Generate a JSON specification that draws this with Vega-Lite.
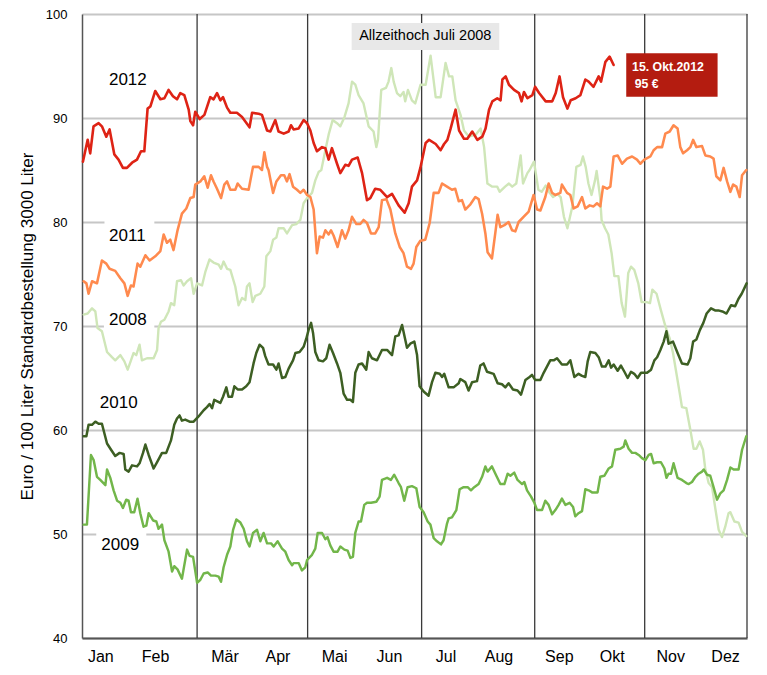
{
  "$schema": "https://vega.github.io/schema/vega-lite/v6.json",
  "width": 665,
  "height": 624,
  "autosize": {"type": "none"},
  "padding": {"left": 82, "top": 14, "right": 20, "bottom": 37},
  "config": {
    "font": "Liberation Sans",
    "view": {"stroke": null},
    "axis": {"labelColor": "#000", "titleColor": "#000"}
  },
  "datasets": {
    "boxes": [
      {"t": 12.3, "t2": 39.6, "v": 80.3, "v2": 77.4},
      {"t": 12.0, "t2": 39.6, "v": 72.2, "v2": 69.3},
      {"t": 7.8, "t2": 35.2, "v": 50.6, "v2": 47.7}
    ],
    "seps": [{"t": 63}, {"t": 123.5}, {"t": 185.9}, {"t": 247.8}, {"t": 308}, {"t": 364}],
    "labels": [
      {"label": "2012", "t": 25.1, "v": 93.65},
      {"label": "2011", "t": 24.8, "v": 78.65},
      {"label": "2008", "t": 25.1, "v": 70.58},
      {"label": "2010", "t": 20.1, "v": 62.57},
      {"label": "2009", "t": 20.9, "v": 48.94}
    ],
    "prices": [
      {"s":"2008","t":0.9,"v":71.1},{"s":"2008","t":3.1,"v":71.2},{"s":"2008","t":5.5,"v":71.7},{"s":"2008","t":7.3,"v":71.4},{"s":"2008","t":8.5,"v":69.8},{"s":"2008","t":10.9,"v":69.5},{"s":"2008","t":13.7,"v":67.5},{"s":"2008","t":16.4,"v":67.0},{"s":"2008","t":18.2,"v":66.7},{"s":"2008","t":21.0,"v":67.2},{"s":"2008","t":23.2,"v":66.6},{"s":"2008","t":25.0,"v":65.8},{"s":"2008","t":26.8,"v":66.7},{"s":"2008","t":28.2,"v":67.4},{"s":"2008","t":29.7,"v":67.2},{"s":"2008","t":31.5,"v":68.2},{"s":"2008","t":32.8,"v":66.7},{"s":"2008","t":35.6,"v":66.9},{"s":"2008","t":39.2,"v":66.9},{"s":"2008","t":41.1,"v":67.7},{"s":"2008","t":41.9,"v":69.8},{"s":"2008","t":43.2,"v":70.4},{"s":"2008","t":45.1,"v":70.6},{"s":"2008","t":47.4,"v":71.4},{"s":"2008","t":48.7,"v":72.2},{"s":"2008","t":50.5,"v":72.0},{"s":"2008","t":52.0,"v":74.3},{"s":"2008","t":54.2,"v":74.4},{"s":"2008","t":55.6,"v":73.9},{"s":"2008","t":57.5,"v":74.3},{"s":"2008","t":59.7,"v":74.6},{"s":"2008","t":61.1,"v":73.1},{"s":"2008","t":63.0,"v":74.1},{"s":"2008","t":65.7,"v":73.9},{"s":"2008","t":67.5,"v":75.2},{"s":"2008","t":69.8,"v":76.4},{"s":"2008","t":72.0,"v":76.1},{"s":"2008","t":74.8,"v":75.9},{"s":"2008","t":76.1,"v":75.5},{"s":"2008","t":77.5,"v":76.2},{"s":"2008","t":79.4,"v":75.5},{"s":"2008","t":81.2,"v":75.4},{"s":"2008","t":83.9,"v":73.8},{"s":"2008","t":85.7,"v":72.0},{"s":"2008","t":87.6,"v":72.7},{"s":"2008","t":89.4,"v":72.5},{"s":"2008","t":90.3,"v":73.8},{"s":"2008","t":91.7,"v":74.1},{"s":"2008","t":93.4,"v":72.3},{"s":"2008","t":94.9,"v":72.9},{"s":"2008","t":97.6,"v":73.1},{"s":"2008","t":99.8,"v":73.8},{"s":"2008","t":100.9,"v":76.7},{"s":"2008","t":103.1,"v":77.2},{"s":"2008","t":104.6,"v":78.3},{"s":"2008","t":106.4,"v":78.5},{"s":"2008","t":107.6,"v":79.4},{"s":"2008","t":110.4,"v":79.4},{"s":"2008","t":112.2,"v":78.9},{"s":"2008","t":115.0,"v":79.7},{"s":"2008","t":117.3,"v":79.8},{"s":"2008","t":119.5,"v":80.2},{"s":"2008","t":121.3,"v":81.8},{"s":"2008","t":123.2,"v":82.3},{"s":"2008","t":125.9,"v":82.8},{"s":"2008","t":127.7,"v":84.0},{"s":"2008","t":129.5,"v":84.8},{"s":"2008","t":131.0,"v":85.0},{"s":"2008","t":133.2,"v":86.9},{"s":"2008","t":135.0,"v":88.4},{"s":"2008","t":137.2,"v":89.8},{"s":"2008","t":139.6,"v":89.5},{"s":"2008","t":141.4,"v":89.2},{"s":"2008","t":143.7,"v":90.1},{"s":"2008","t":145.9,"v":91.4},{"s":"2008","t":147.8,"v":93.5},{"s":"2008","t":149.6,"v":93.2},{"s":"2008","t":151.4,"v":92.2},{"s":"2008","t":154.1,"v":91.4},{"s":"2008","t":156.9,"v":89.2},{"s":"2008","t":159.6,"v":88.7},{"s":"2008","t":161.1,"v":87.2},{"s":"2008","t":162.0,"v":87.9},{"s":"2008","t":163.8,"v":92.7},{"s":"2008","t":166.4,"v":92.9},{"s":"2008","t":167.8,"v":93.5},{"s":"2008","t":169.3,"v":94.8},{"s":"2008","t":170.6,"v":93.5},{"s":"2008","t":172.4,"v":92.4},{"s":"2008","t":174.2,"v":92.1},{"s":"2008","t":176.0,"v":92.5},{"s":"2008","t":176.9,"v":91.6},{"s":"2008","t":178.4,"v":92.7},{"s":"2008","t":180.6,"v":91.7},{"s":"2008","t":182.4,"v":91.4},{"s":"2008","t":185.3,"v":93.2},{"s":"2008","t":188.1,"v":93.2},{"s":"2008","t":190.8,"v":96.0},{"s":"2008","t":193.6,"v":92.0},{"s":"2008","t":196.3,"v":92.0},{"s":"2008","t":199.0,"v":95.3},{"s":"2008","t":200.9,"v":94.0},{"s":"2008","t":202.7,"v":94.0},{"s":"2008","t":204.5,"v":91.7},{"s":"2008","t":207.2,"v":90.3},{"s":"2008","t":209.1,"v":88.8},{"s":"2008","t":211.8,"v":88.2},{"s":"2008","t":215.5,"v":88.4},{"s":"2008","t":218.2,"v":89.0},{"s":"2008","t":220.1,"v":87.2},{"s":"2008","t":221.9,"v":83.7},{"s":"2008","t":224.6,"v":83.4},{"s":"2008","t":227.3,"v":83.4},{"s":"2008","t":228.6,"v":82.9},{"s":"2008","t":231.6,"v":83.4},{"s":"2008","t":233.7,"v":83.7},{"s":"2008","t":235.5,"v":83.4},{"s":"2008","t":237.7,"v":83.7},{"s":"2008","t":240.1,"v":86.4},{"s":"2008","t":241.4,"v":83.7},{"s":"2008","t":243.8,"v":84.7},{"s":"2008","t":245.0,"v":85.0},{"s":"2008","t":247.4,"v":85.8},{"s":"2008","t":249.8,"v":83.1},{"s":"2008","t":251.6,"v":82.9},{"s":"2008","t":253.8,"v":83.5},{"s":"2008","t":256.0,"v":82.8},{"s":"2008","t":257.8,"v":82.4},{"s":"2008","t":260.2,"v":82.7},{"s":"2008","t":262.0,"v":82.4},{"s":"2008","t":263.8,"v":80.5},{"s":"2008","t":265.7,"v":79.4},{"s":"2008","t":268.4,"v":81.5},{"s":"2008","t":270.6,"v":85.3},{"s":"2008","t":272.9,"v":85.5},{"s":"2008","t":274.2,"v":86.3},{"s":"2008","t":275.7,"v":85.3},{"s":"2008","t":277.2,"v":83.7},{"s":"2008","t":278.9,"v":82.6},{"s":"2008","t":280.8,"v":84.0},{"s":"2008","t":281.7,"v":84.9},{"s":"2008","t":283.6,"v":82.4},{"s":"2008","t":284.4,"v":80.2},{"s":"2008","t":286.3,"v":79.4},{"s":"2008","t":288.1,"v":78.8},{"s":"2008","t":289.9,"v":77.0},{"s":"2008","t":291.4,"v":74.8},{"s":"2008","t":293.6,"v":74.8},{"s":"2008","t":295.4,"v":72.2},{"s":"2008","t":297.2,"v":70.9},{"s":"2008","t":299.0,"v":75.1},{"s":"2008","t":300.5,"v":75.7},{"s":"2008","t":302.3,"v":75.4},{"s":"2008","t":304.5,"v":74.1},{"s":"2008","t":306.3,"v":72.3},{"s":"2008","t":309.1,"v":72.3},{"s":"2008","t":310.9,"v":72.2},{"s":"2008","t":312.2,"v":73.5},{"s":"2008","t":314.5,"v":73.1},{"s":"2008","t":316.9,"v":71.5},{"s":"2008","t":318.8,"v":70.3},{"s":"2008","t":320.0,"v":69.6},{"s":"2008","t":321.7,"v":68.8},{"s":"2008","t":323.5,"v":67.4},{"s":"2008","t":325.7,"v":65.1},{"s":"2008","t":327.5,"v":63.2},{"s":"2008","t":328.4,"v":62.2},{"s":"2008","t":330.8,"v":62.1},{"s":"2008","t":333.0,"v":60.0},{"s":"2008","t":334.8,"v":58.2},{"s":"2008","t":336.3,"v":58.2},{"s":"2008","t":338.1,"v":58.9},{"s":"2008","t":339.9,"v":58.1},{"s":"2008","t":341.2,"v":56.2},{"s":"2008","t":343.0,"v":54.9},{"s":"2008","t":344.9,"v":54.5},{"s":"2008","t":346.7,"v":52.4},{"s":"2008","t":348.5,"v":50.4},{"s":"2008","t":350.3,"v":49.7},{"s":"2008","t":352.1,"v":50.7},{"s":"2008","t":353.9,"v":52.0},{"s":"2008","t":354.9,"v":52.1},{"s":"2008","t":357.1,"v":51.2},{"s":"2008","t":359.4,"v":51.1},{"s":"2008","t":361.3,"v":50.2},{"s":"2008","t":363.6,"v":49.8},
      {"s":"2009","t":0.9,"v":50.9},{"s":"2009","t":2.7,"v":50.9},{"s":"2009","t":4.9,"v":57.6},{"s":"2009","t":6.4,"v":57.1},{"s":"2009","t":8.2,"v":55.5},{"s":"2009","t":10.0,"v":55.2},{"s":"2009","t":12.8,"v":54.7},{"s":"2009","t":13.7,"v":56.2},{"s":"2009","t":15.5,"v":55.4},{"s":"2009","t":17.3,"v":54.2},{"s":"2009","t":19.2,"v":53.2},{"s":"2009","t":21.0,"v":53.0},{"s":"2009","t":22.4,"v":52.5},{"s":"2009","t":24.2,"v":53.3},{"s":"2009","t":25.5,"v":53.2},{"s":"2009","t":26.8,"v":52.1},{"s":"2009","t":28.6,"v":52.1},{"s":"2009","t":30.4,"v":53.4},{"s":"2009","t":31.9,"v":52.0},{"s":"2009","t":33.7,"v":50.7},{"s":"2009","t":35.2,"v":50.8},{"s":"2009","t":36.5,"v":52.0},{"s":"2009","t":38.9,"v":51.3},{"s":"2009","t":40.7,"v":51.2},{"s":"2009","t":41.9,"v":50.5},{"s":"2009","t":43.8,"v":50.9},{"s":"2009","t":45.1,"v":49.4},{"s":"2009","t":47.4,"v":48.3},{"s":"2009","t":49.3,"v":46.4},{"s":"2009","t":50.5,"v":46.9},{"s":"2009","t":52.3,"v":46.6},{"s":"2009","t":54.7,"v":45.7},{"s":"2009","t":57.5,"v":48.5},{"s":"2009","t":58.9,"v":47.9},{"s":"2009","t":60.8,"v":47.8},{"s":"2009","t":63.0,"v":45.3},{"s":"2009","t":64.8,"v":45.6},{"s":"2009","t":66.6,"v":46.2},{"s":"2009","t":68.8,"v":46.3},{"s":"2009","t":70.6,"v":46.0},{"s":"2009","t":73.0,"v":46.0},{"s":"2009","t":74.8,"v":45.9},{"s":"2009","t":76.1,"v":45.4},{"s":"2009","t":77.5,"v":46.8},{"s":"2009","t":79.4,"v":48.0},{"s":"2009","t":81.2,"v":48.8},{"s":"2009","t":82.7,"v":50.4},{"s":"2009","t":84.5,"v":51.4},{"s":"2009","t":86.7,"v":51.1},{"s":"2009","t":88.5,"v":50.5},{"s":"2009","t":90.3,"v":49.3},{"s":"2009","t":91.7,"v":48.8},{"s":"2009","t":93.6,"v":50.1},{"s":"2009","t":95.8,"v":50.4},{"s":"2009","t":97.6,"v":49.3},{"s":"2009","t":99.4,"v":50.1},{"s":"2009","t":101.3,"v":49.1},{"s":"2009","t":103.5,"v":49.1},{"s":"2009","t":104.9,"v":48.8},{"s":"2009","t":107.1,"v":49.3},{"s":"2009","t":109.5,"v":48.6},{"s":"2009","t":111.3,"v":48.3},{"s":"2009","t":113.1,"v":47.5},{"s":"2009","t":115.0,"v":47.0},{"s":"2009","t":115.8,"v":47.2},{"s":"2009","t":118.6,"v":47.2},{"s":"2009","t":120.4,"v":46.5},{"s":"2009","t":122.2,"v":46.8},{"s":"2009","t":123.2,"v":47.5},{"s":"2009","t":125.9,"v":48.0},{"s":"2009","t":127.7,"v":48.6},{"s":"2009","t":129.0,"v":50.1},{"s":"2009","t":131.4,"v":50.1},{"s":"2009","t":133.2,"v":49.5},{"s":"2009","t":134.4,"v":49.7},{"s":"2009","t":135.9,"v":48.9},{"s":"2009","t":137.7,"v":48.3},{"s":"2009","t":139.9,"v":48.3},{"s":"2009","t":141.4,"v":48.8},{"s":"2009","t":143.6,"v":48.5},{"s":"2009","t":145.4,"v":48.4},{"s":"2009","t":146.9,"v":47.7},{"s":"2009","t":148.3,"v":47.8},{"s":"2009","t":149.6,"v":50.1},{"s":"2009","t":151.4,"v":51.2},{"s":"2009","t":152.7,"v":51.2},{"s":"2009","t":154.5,"v":52.8},{"s":"2009","t":156.0,"v":53.0},{"s":"2009","t":158.2,"v":53.0},{"s":"2009","t":161.1,"v":53.1},{"s":"2009","t":162.9,"v":53.6},{"s":"2009","t":164.2,"v":55.2},{"s":"2009","t":167.0,"v":55.4},{"s":"2009","t":169.1,"v":55.2},{"s":"2009","t":170.9,"v":55.7},{"s":"2009","t":173.3,"v":54.9},{"s":"2009","t":174.6,"v":54.5},{"s":"2009","t":176.4,"v":53.2},{"s":"2009","t":178.2,"v":54.5},{"s":"2009","t":180.6,"v":54.6},{"s":"2009","t":183.0,"v":54.4},{"s":"2009","t":184.8,"v":52.6},{"s":"2009","t":187.0,"v":52.1},{"s":"2009","t":189.2,"v":51.2},{"s":"2009","t":190.7,"v":50.9},{"s":"2009","t":192.5,"v":49.6},{"s":"2009","t":194.3,"v":49.3},{"s":"2009","t":196.5,"v":49.0},{"s":"2009","t":197.9,"v":49.4},{"s":"2009","t":199.8,"v":51.0},{"s":"2009","t":200.7,"v":51.5},{"s":"2009","t":202.5,"v":51.6},{"s":"2009","t":204.9,"v":52.3},{"s":"2009","t":206.7,"v":54.3},{"s":"2009","t":208.9,"v":54.5},{"s":"2009","t":211.1,"v":54.5},{"s":"2009","t":212.9,"v":54.2},{"s":"2009","t":214.7,"v":54.5},{"s":"2009","t":217.1,"v":54.8},{"s":"2009","t":219.0,"v":55.5},{"s":"2009","t":220.8,"v":56.5},{"s":"2009","t":222.0,"v":56.0},{"s":"2009","t":224.4,"v":56.5},{"s":"2009","t":226.8,"v":55.6},{"s":"2009","t":229.0,"v":54.8},{"s":"2009","t":231.2,"v":54.8},{"s":"2009","t":233.0,"v":55.8},{"s":"2009","t":234.5,"v":55.6},{"s":"2009","t":236.6,"v":55.9},{"s":"2009","t":238.4,"v":55.2},{"s":"2009","t":240.9,"v":54.8},{"s":"2009","t":242.1,"v":55.0},{"s":"2009","t":243.6,"v":54.2},{"s":"2009","t":245.8,"v":53.6},{"s":"2009","t":247.6,"v":53.0},{"s":"2009","t":249.1,"v":52.3},{"s":"2009","t":251.8,"v":52.3},{"s":"2009","t":253.6,"v":53.2},{"s":"2009","t":255.4,"v":52.8},{"s":"2009","t":257.3,"v":51.9},{"s":"2009","t":259.1,"v":52.3},{"s":"2009","t":260.9,"v":52.8},{"s":"2009","t":262.7,"v":53.4},{"s":"2009","t":264.6,"v":52.8},{"s":"2009","t":266.9,"v":53.0},{"s":"2009","t":268.8,"v":52.6},{"s":"2009","t":270.0,"v":51.7},{"s":"2009","t":271.8,"v":52.0},{"s":"2009","t":273.7,"v":52.2},{"s":"2009","t":275.5,"v":54.3},{"s":"2009","t":277.3,"v":54.2},{"s":"2009","t":279.2,"v":54.0},{"s":"2009","t":282.2,"v":54.0},{"s":"2009","t":283.7,"v":55.5},{"s":"2009","t":285.9,"v":55.6},{"s":"2009","t":288.3,"v":56.3},{"s":"2009","t":290.1,"v":56.5},{"s":"2009","t":291.9,"v":58.1},{"s":"2009","t":294.7,"v":58.2},{"s":"2009","t":296.5,"v":58.4},{"s":"2009","t":297.4,"v":59.0},{"s":"2009","t":299.2,"v":58.2},{"s":"2009","t":301.1,"v":57.8},{"s":"2009","t":302.9,"v":57.8},{"s":"2009","t":304.7,"v":57.6},{"s":"2009","t":306.5,"v":57.3},{"s":"2009","t":308.4,"v":57.1},{"s":"2009","t":310.2,"v":57.6},{"s":"2009","t":311.5,"v":57.7},{"s":"2009","t":312.9,"v":56.8},{"s":"2009","t":314.8,"v":56.9},{"s":"2009","t":316.9,"v":56.9},{"s":"2009","t":318.8,"v":56.3},{"s":"2009","t":319.9,"v":55.4},{"s":"2009","t":321.1,"v":55.8},{"s":"2009","t":322.4,"v":55.8},{"s":"2009","t":323.8,"v":56.8},{"s":"2009","t":326.0,"v":55.4},{"s":"2009","t":328.4,"v":55.2},{"s":"2009","t":330.8,"v":54.9},{"s":"2009","t":332.1,"v":54.8},{"s":"2009","t":333.9,"v":55.0},{"s":"2009","t":335.8,"v":55.5},{"s":"2009","t":337.5,"v":55.8},{"s":"2009","t":339.4,"v":56.0},{"s":"2009","t":340.3,"v":56.2},{"s":"2009","t":342.1,"v":55.7},{"s":"2009","t":343.9,"v":55.6},{"s":"2009","t":345.7,"v":54.5},{"s":"2009","t":347.6,"v":53.3},{"s":"2009","t":349.4,"v":53.9},{"s":"2009","t":351.2,"v":54.2},{"s":"2009","t":353.1,"v":55.2},{"s":"2009","t":354.9,"v":56.4},{"s":"2009","t":356.7,"v":56.2},{"s":"2009","t":359.4,"v":56.2},{"s":"2009","t":361.3,"v":58.1},{"s":"2009","t":363.6,"v":59.4},
      {"s":"2010","t":0.9,"v":59.4},{"s":"2010","t":2.4,"v":59.4},{"s":"2010","t":3.6,"v":60.5},{"s":"2010","t":5.5,"v":60.5},{"s":"2010","t":7.3,"v":60.8},{"s":"2010","t":9.1,"v":60.6},{"s":"2010","t":10.9,"v":60.6},{"s":"2010","t":13.7,"v":58.7},{"s":"2010","t":15.9,"v":58.1},{"s":"2010","t":18.2,"v":57.5},{"s":"2010","t":20.6,"v":57.8},{"s":"2010","t":22.8,"v":57.7},{"s":"2010","t":23.7,"v":56.2},{"s":"2010","t":25.5,"v":56.0},{"s":"2010","t":27.4,"v":56.6},{"s":"2010","t":30.1,"v":56.5},{"s":"2010","t":31.5,"v":56.8},{"s":"2010","t":33.4,"v":57.8},{"s":"2010","t":34.7,"v":58.6},{"s":"2010","t":36.5,"v":57.6},{"s":"2010","t":39.2,"v":56.3},{"s":"2010","t":41.4,"v":57.0},{"s":"2010","t":43.8,"v":57.8},{"s":"2010","t":46.1,"v":57.8},{"s":"2010","t":48.7,"v":59.0},{"s":"2010","t":50.5,"v":60.5},{"s":"2010","t":52.0,"v":61.1},{"s":"2010","t":53.4,"v":61.4},{"s":"2010","t":54.7,"v":60.9},{"s":"2010","t":56.5,"v":61.0},{"s":"2010","t":58.9,"v":60.8},{"s":"2010","t":61.1,"v":60.8},{"s":"2010","t":63.8,"v":61.3},{"s":"2010","t":66.6,"v":61.9},{"s":"2010","t":68.4,"v":62.2},{"s":"2010","t":69.8,"v":62.5},{"s":"2010","t":71.2,"v":62.1},{"s":"2010","t":72.4,"v":62.9},{"s":"2010","t":75.7,"v":62.6},{"s":"2010","t":77.2,"v":63.2},{"s":"2010","t":79.0,"v":64.1},{"s":"2010","t":80.2,"v":63.2},{"s":"2010","t":82.1,"v":63.2},{"s":"2010","t":83.4,"v":64.2},{"s":"2010","t":85.2,"v":63.9},{"s":"2010","t":87.6,"v":63.9},{"s":"2010","t":89.9,"v":64.2},{"s":"2010","t":91.7,"v":64.6},{"s":"2010","t":93.9,"v":66.4},{"s":"2010","t":95.4,"v":67.4},{"s":"2010","t":97.2,"v":68.2},{"s":"2010","t":99.1,"v":67.9},{"s":"2010","t":100.3,"v":67.1},{"s":"2010","t":102.1,"v":66.3},{"s":"2010","t":104.6,"v":66.3},{"s":"2010","t":106.4,"v":65.8},{"s":"2010","t":107.6,"v":66.4},{"s":"2010","t":109.5,"v":65.0},{"s":"2010","t":111.3,"v":65.1},{"s":"2010","t":113.1,"v":65.9},{"s":"2010","t":115.5,"v":66.7},{"s":"2010","t":116.8,"v":67.4},{"s":"2010","t":119.1,"v":67.5},{"s":"2010","t":121.3,"v":68.0},{"s":"2010","t":122.8,"v":68.8},{"s":"2010","t":124.0,"v":69.6},{"s":"2010","t":125.4,"v":70.3},{"s":"2010","t":126.5,"v":69.3},{"s":"2010","t":127.7,"v":67.5},{"s":"2010","t":129.5,"v":66.7},{"s":"2010","t":131.9,"v":66.6},{"s":"2010","t":133.7,"v":66.9},{"s":"2010","t":135.5,"v":68.2},{"s":"2010","t":137.4,"v":67.4},{"s":"2010","t":139.6,"v":66.4},{"s":"2010","t":141.4,"v":65.5},{"s":"2010","t":143.2,"v":63.5},{"s":"2010","t":145.1,"v":62.9},{"s":"2010","t":146.9,"v":62.9},{"s":"2010","t":148.3,"v":62.7},{"s":"2010","t":149.6,"v":65.5},{"s":"2010","t":151.4,"v":66.3},{"s":"2010","t":153.3,"v":66.4},{"s":"2010","t":155.6,"v":65.8},{"s":"2010","t":156.9,"v":67.5},{"s":"2010","t":158.7,"v":66.9},{"s":"2010","t":161.5,"v":66.7},{"s":"2010","t":164.2,"v":67.7},{"s":"2010","t":167.0,"v":67.7},{"s":"2010","t":169.7,"v":67.2},{"s":"2010","t":171.5,"v":69.0},{"s":"2010","t":173.3,"v":69.1},{"s":"2010","t":175.2,"v":70.1},{"s":"2010","t":177.9,"v":67.9},{"s":"2010","t":179.7,"v":68.3},{"s":"2010","t":181.9,"v":68.5},{"s":"2010","t":183.4,"v":67.2},{"s":"2010","t":184.8,"v":64.2},{"s":"2010","t":187.0,"v":63.7},{"s":"2010","t":189.7,"v":63.3},{"s":"2010","t":191.6,"v":64.6},{"s":"2010","t":193.4,"v":65.5},{"s":"2010","t":195.8,"v":65.4},{"s":"2010","t":197.1,"v":65.1},{"s":"2010","t":198.3,"v":65.4},{"s":"2010","t":200.7,"v":64.1},{"s":"2010","t":203.4,"v":64.1},{"s":"2010","t":206.2,"v":64.5},{"s":"2010","t":207.1,"v":64.9},{"s":"2010","t":209.8,"v":64.6},{"s":"2010","t":211.6,"v":63.8},{"s":"2010","t":213.5,"v":64.6},{"s":"2010","t":216.2,"v":64.7},{"s":"2010","t":218.0,"v":66.2},{"s":"2010","t":219.8,"v":66.4},{"s":"2010","t":221.7,"v":65.6},{"s":"2010","t":225.3,"v":65.4},{"s":"2010","t":227.5,"v":64.5},{"s":"2010","t":229.9,"v":64.4},{"s":"2010","t":231.7,"v":64.1},{"s":"2010","t":233.5,"v":64.5},{"s":"2010","t":235.9,"v":63.9},{"s":"2010","t":238.4,"v":63.8},{"s":"2010","t":240.3,"v":63.4},{"s":"2010","t":242.7,"v":64.8},{"s":"2010","t":245.0,"v":65.1},{"s":"2010","t":246.3,"v":65.3},{"s":"2010","t":248.1,"v":64.8},{"s":"2010","t":250.9,"v":64.8},{"s":"2010","t":252.7,"v":65.5},{"s":"2010","t":254.5,"v":66.1},{"s":"2010","t":256.3,"v":66.7},{"s":"2010","t":258.2,"v":66.7},{"s":"2010","t":260.0,"v":66.9},{"s":"2010","t":262.7,"v":66.3},{"s":"2010","t":265.5,"v":66.3},{"s":"2010","t":267.3,"v":66.7},{"s":"2010","t":269.5,"v":65.1},{"s":"2010","t":271.8,"v":65.4},{"s":"2010","t":273.7,"v":65.2},{"s":"2010","t":275.5,"v":65.1},{"s":"2010","t":276.8,"v":66.6},{"s":"2010","t":278.2,"v":67.5},{"s":"2010","t":281.0,"v":67.4},{"s":"2010","t":282.8,"v":67.0},{"s":"2010","t":284.6,"v":66.1},{"s":"2010","t":286.5,"v":66.1},{"s":"2010","t":288.3,"v":66.7},{"s":"2010","t":289.6,"v":66.0},{"s":"2010","t":291.0,"v":66.3},{"s":"2010","t":293.2,"v":65.7},{"s":"2010","t":295.0,"v":66.2},{"s":"2010","t":296.9,"v":65.6},{"s":"2010","t":298.7,"v":65.0},{"s":"2010","t":300.5,"v":65.6},{"s":"2010","t":302.3,"v":65.4},{"s":"2010","t":304.1,"v":65.0},{"s":"2010","t":306.0,"v":65.5},{"s":"2010","t":309.3,"v":65.5},{"s":"2010","t":311.5,"v":65.8},{"s":"2010","t":313.3,"v":66.7},{"s":"2010","t":314.8,"v":67.0},{"s":"2010","t":316.6,"v":67.7},{"s":"2010","t":318.4,"v":68.5},{"s":"2010","t":319.9,"v":69.5},{"s":"2010","t":321.1,"v":68.3},{"s":"2010","t":323.5,"v":68.5},{"s":"2010","t":326.0,"v":67.4},{"s":"2010","t":328.4,"v":66.4},{"s":"2010","t":331.5,"v":66.3},{"s":"2010","t":333.0,"v":66.9},{"s":"2010","t":334.5,"v":68.5},{"s":"2010","t":336.3,"v":68.7},{"s":"2010","t":338.2,"v":69.6},{"s":"2010","t":340.1,"v":70.3},{"s":"2010","t":341.9,"v":71.2},{"s":"2010","t":344.3,"v":71.7},{"s":"2010","t":346.5,"v":71.5},{"s":"2010","t":348.3,"v":71.5},{"s":"2010","t":350.5,"v":71.4},{"s":"2010","t":352.8,"v":71.2},{"s":"2010","t":355.3,"v":72.0},{"s":"2010","t":357.5,"v":71.9},{"s":"2010","t":359.3,"v":72.6},{"s":"2010","t":361.1,"v":73.1},{"s":"2010","t":363.8,"v":74.1},
      {"s":"2011","t":0.9,"v":74.3},{"s":"2011","t":2.4,"v":74.1},{"s":"2011","t":3.6,"v":73.1},{"s":"2011","t":5.5,"v":74.3},{"s":"2011","t":8.2,"v":74.1},{"s":"2011","t":10.9,"v":76.3},{"s":"2011","t":13.3,"v":76.0},{"s":"2011","t":15.1,"v":75.5},{"s":"2011","t":18.2,"v":75.3},{"s":"2011","t":21.0,"v":74.6},{"s":"2011","t":23.2,"v":74.1},{"s":"2011","t":25.0,"v":72.9},{"s":"2011","t":26.8,"v":73.9},{"s":"2011","t":28.2,"v":73.8},{"s":"2011","t":30.4,"v":76.0},{"s":"2011","t":31.9,"v":75.7},{"s":"2011","t":34.7,"v":76.8},{"s":"2011","t":37.0,"v":76.3},{"s":"2011","t":40.1,"v":76.7},{"s":"2011","t":42.9,"v":77.2},{"s":"2011","t":44.7,"v":78.8},{"s":"2011","t":46.5,"v":78.0},{"s":"2011","t":48.3,"v":78.3},{"s":"2011","t":50.1,"v":77.3},{"s":"2011","t":52.3,"v":79.2},{"s":"2011","t":54.7,"v":80.8},{"s":"2011","t":57.1,"v":81.3},{"s":"2011","t":59.3,"v":82.3},{"s":"2011","t":61.1,"v":82.4},{"s":"2011","t":62.0,"v":83.6},{"s":"2011","t":64.8,"v":83.9},{"s":"2011","t":66.9,"v":84.4},{"s":"2011","t":68.8,"v":83.3},{"s":"2011","t":70.6,"v":84.5},{"s":"2011","t":72.0,"v":83.9},{"s":"2011","t":73.9,"v":83.2},{"s":"2011","t":76.1,"v":82.3},{"s":"2011","t":77.9,"v":83.6},{"s":"2011","t":79.4,"v":83.9},{"s":"2011","t":81.2,"v":83.1},{"s":"2011","t":83.9,"v":83.1},{"s":"2011","t":85.2,"v":83.7},{"s":"2011","t":87.6,"v":83.2},{"s":"2011","t":91.2,"v":83.1},{"s":"2011","t":93.6,"v":85.3},{"s":"2011","t":96.7,"v":85.3},{"s":"2011","t":98.5,"v":85.0},{"s":"2011","t":99.8,"v":86.7},{"s":"2011","t":101.3,"v":85.3},{"s":"2011","t":102.1,"v":85.0},{"s":"2011","t":104.6,"v":82.8},{"s":"2011","t":106.4,"v":83.9},{"s":"2011","t":108.9,"v":84.5},{"s":"2011","t":110.7,"v":84.5},{"s":"2011","t":112.2,"v":83.9},{"s":"2011","t":113.6,"v":84.6},{"s":"2011","t":115.5,"v":83.4},{"s":"2011","t":117.7,"v":83.1},{"s":"2011","t":119.5,"v":82.8},{"s":"2011","t":121.3,"v":83.1},{"s":"2011","t":123.2,"v":82.6},{"s":"2011","t":125.0,"v":82.4},{"s":"2011","t":126.8,"v":81.2},{"s":"2011","t":128.6,"v":77.0},{"s":"2011","t":130.1,"v":78.6},{"s":"2011","t":131.9,"v":78.5},{"s":"2011","t":133.2,"v":79.2},{"s":"2011","t":135.0,"v":78.8},{"s":"2011","t":136.3,"v":79.2},{"s":"2011","t":137.7,"v":78.7},{"s":"2011","t":139.9,"v":77.6},{"s":"2011","t":142.3,"v":79.2},{"s":"2011","t":144.1,"v":78.4},{"s":"2011","t":145.9,"v":79.2},{"s":"2011","t":147.8,"v":80.5},{"s":"2011","t":150.2,"v":79.8},{"s":"2011","t":152.3,"v":79.8},{"s":"2011","t":154.1,"v":80.2},{"s":"2011","t":156.0,"v":79.9},{"s":"2011","t":158.2,"v":78.9},{"s":"2011","t":160.5,"v":78.9},{"s":"2011","t":162.4,"v":79.5},{"s":"2011","t":164.2,"v":82.1},{"s":"2011","t":166.6,"v":82.2},{"s":"2011","t":168.8,"v":81.2},{"s":"2011","t":171.5,"v":78.9},{"s":"2011","t":173.9,"v":77.6},{"s":"2011","t":176.0,"v":77.0},{"s":"2011","t":177.9,"v":75.7},{"s":"2011","t":180.1,"v":75.5},{"s":"2011","t":181.5,"v":76.0},{"s":"2011","t":183.0,"v":77.6},{"s":"2011","t":185.2,"v":78.2},{"s":"2011","t":187.9,"v":78.3},{"s":"2011","t":190.3,"v":79.9},{"s":"2011","t":192.5,"v":82.8},{"s":"2011","t":195.2,"v":82.8},{"s":"2011","t":197.1,"v":83.7},{"s":"2011","t":199.8,"v":83.4},{"s":"2011","t":202.5,"v":83.1},{"s":"2011","t":204.3,"v":83.2},{"s":"2011","t":206.2,"v":82.0},{"s":"2011","t":208.0,"v":82.1},{"s":"2011","t":209.8,"v":81.2},{"s":"2011","t":212.6,"v":81.7},{"s":"2011","t":215.3,"v":82.4},{"s":"2011","t":217.1,"v":82.2},{"s":"2011","t":219.0,"v":80.8},{"s":"2011","t":220.8,"v":78.9},{"s":"2011","t":222.0,"v":77.1},{"s":"2011","t":224.4,"v":76.5},{"s":"2011","t":226.2,"v":78.9},{"s":"2011","t":227.5,"v":80.7},{"s":"2011","t":229.0,"v":79.5},{"s":"2011","t":231.2,"v":79.7},{"s":"2011","t":233.5,"v":80.0},{"s":"2011","t":235.4,"v":79.2},{"s":"2011","t":237.2,"v":79.1},{"s":"2011","t":239.0,"v":80.0},{"s":"2011","t":241.7,"v":80.5},{"s":"2011","t":244.5,"v":81.0},{"s":"2011","t":247.2,"v":82.6},{"s":"2011","t":249.1,"v":81.2},{"s":"2011","t":250.9,"v":81.1},{"s":"2011","t":253.6,"v":82.4},{"s":"2011","t":255.4,"v":83.7},{"s":"2011","t":257.3,"v":82.8},{"s":"2011","t":259.1,"v":82.6},{"s":"2011","t":261.8,"v":82.8},{"s":"2011","t":262.7,"v":83.6},{"s":"2011","t":265.5,"v":82.8},{"s":"2011","t":267.3,"v":82.6},{"s":"2011","t":269.1,"v":81.3},{"s":"2011","t":271.3,"v":81.5},{"s":"2011","t":273.7,"v":82.4},{"s":"2011","t":275.5,"v":81.3},{"s":"2011","t":277.9,"v":81.6},{"s":"2011","t":280.0,"v":81.5},{"s":"2011","t":281.9,"v":81.8},{"s":"2011","t":283.7,"v":81.5},{"s":"2011","t":285.2,"v":83.4},{"s":"2011","t":287.4,"v":83.2},{"s":"2011","t":289.2,"v":83.4},{"s":"2011","t":291.0,"v":86.3},{"s":"2011","t":293.2,"v":86.4},{"s":"2011","t":295.6,"v":85.6},{"s":"2011","t":298.3,"v":86.1},{"s":"2011","t":301.1,"v":86.3},{"s":"2011","t":303.8,"v":86.0},{"s":"2011","t":305.6,"v":85.6},{"s":"2011","t":307.8,"v":86.0},{"s":"2011","t":311.1,"v":86.3},{"s":"2011","t":312.9,"v":86.9},{"s":"2011","t":314.8,"v":87.2},{"s":"2011","t":317.5,"v":87.2},{"s":"2011","t":319.3,"v":88.5},{"s":"2011","t":321.7,"v":88.7},{"s":"2011","t":323.8,"v":89.3},{"s":"2011","t":326.0,"v":89.0},{"s":"2011","t":327.5,"v":87.2},{"s":"2011","t":329.0,"v":86.6},{"s":"2011","t":331.2,"v":86.9},{"s":"2011","t":333.0,"v":87.2},{"s":"2011","t":334.5,"v":87.9},{"s":"2011","t":336.3,"v":87.2},{"s":"2011","t":339.4,"v":87.3},{"s":"2011","t":341.2,"v":86.4},{"s":"2011","t":343.9,"v":86.3},{"s":"2011","t":345.7,"v":86.1},{"s":"2011","t":347.2,"v":84.4},{"s":"2011","t":349.4,"v":84.0},{"s":"2011","t":351.2,"v":85.2},{"s":"2011","t":353.1,"v":83.9},{"s":"2011","t":354.9,"v":82.9},{"s":"2011","t":356.4,"v":83.6},{"s":"2011","t":358.2,"v":83.4},{"s":"2011","t":360.0,"v":82.4},{"s":"2011","t":361.3,"v":84.5},{"s":"2011","t":363.6,"v":85.0},
      {"s":"2012","t":0.5,"v":85.8},{"s":"2012","t":3.1,"v":87.9},{"s":"2012","t":4.5,"v":86.6},{"s":"2012","t":6.3,"v":89.2},{"s":"2012","t":9.1,"v":89.5},{"s":"2012","t":10.9,"v":89.2},{"s":"2012","t":13.3,"v":88.2},{"s":"2012","t":15.1,"v":88.9},{"s":"2012","t":17.7,"v":86.5},{"s":"2012","t":20.0,"v":86.0},{"s":"2012","t":22.4,"v":85.2},{"s":"2012","t":24.6,"v":85.2},{"s":"2012","t":27.4,"v":85.7},{"s":"2012","t":30.1,"v":86.0},{"s":"2012","t":32.3,"v":86.8},{"s":"2012","t":34.1,"v":86.8},{"s":"2012","t":35.9,"v":90.9},{"s":"2012","t":37.4,"v":91.1},{"s":"2012","t":40.1,"v":92.6},{"s":"2012","t":42.9,"v":91.8},{"s":"2012","t":45.1,"v":91.9},{"s":"2012","t":47.4,"v":92.7},{"s":"2012","t":49.8,"v":92.1},{"s":"2012","t":52.0,"v":91.8},{"s":"2012","t":53.8,"v":92.4},{"s":"2012","t":56.0,"v":92.2},{"s":"2012","t":58.4,"v":90.8},{"s":"2012","t":59.3,"v":89.7},{"s":"2012","t":60.8,"v":89.3},{"s":"2012","t":62.0,"v":90.6},{"s":"2012","t":64.4,"v":89.9},{"s":"2012","t":67.0,"v":90.3},{"s":"2012","t":70.2,"v":92.0},{"s":"2012","t":72.0,"v":91.8},{"s":"2012","t":73.9,"v":92.4},{"s":"2012","t":75.7,"v":91.7},{"s":"2012","t":77.2,"v":92.0},{"s":"2012","t":79.4,"v":91.0},{"s":"2012","t":81.2,"v":90.5},{"s":"2012","t":84.8,"v":90.5},{"s":"2012","t":87.6,"v":90.1},{"s":"2012","t":91.7,"v":89.1},{"s":"2012","t":93.1,"v":90.5},{"s":"2012","t":96.7,"v":90.4},{"s":"2012","t":98.5,"v":90.3},{"s":"2012","t":101.3,"v":88.8},{"s":"2012","t":103.1,"v":88.7},{"s":"2012","t":105.8,"v":89.8},{"s":"2012","t":107.6,"v":88.7},{"s":"2012","t":110.4,"v":88.5},{"s":"2012","t":113.1,"v":88.7},{"s":"2012","t":114.4,"v":89.3},{"s":"2012","t":115.8,"v":88.9},{"s":"2012","t":118.6,"v":89.0},{"s":"2012","t":121.3,"v":89.8},{"s":"2012","t":123.2,"v":89.5},{"s":"2012","t":125.0,"v":88.8},{"s":"2012","t":126.8,"v":87.6},{"s":"2012","t":128.6,"v":86.8},{"s":"2012","t":131.4,"v":87.2},{"s":"2012","t":133.2,"v":87.1},{"s":"2012","t":135.0,"v":86.0},{"s":"2012","t":136.8,"v":87.1},{"s":"2012","t":139.6,"v":85.6},{"s":"2012","t":141.4,"v":84.7},{"s":"2012","t":144.1,"v":85.5},{"s":"2012","t":145.9,"v":85.4},{"s":"2012","t":147.8,"v":86.0},{"s":"2012","t":150.9,"v":86.2},{"s":"2012","t":153.3,"v":84.7},{"s":"2012","t":156.0,"v":82.1},{"s":"2012","t":157.8,"v":82.3},{"s":"2012","t":160.5,"v":83.2},{"s":"2012","t":163.3,"v":83.1},{"s":"2012","t":167.0,"v":82.4},{"s":"2012","t":169.7,"v":82.7},{"s":"2012","t":173.3,"v":81.6},{"s":"2012","t":176.6,"v":80.9},{"s":"2012","t":178.8,"v":81.8},{"s":"2012","t":180.6,"v":83.4},{"s":"2012","t":183.4,"v":84.0},{"s":"2012","t":185.2,"v":85.2},{"s":"2012","t":188.1,"v":87.6},{"s":"2012","t":190.0,"v":87.9},{"s":"2012","t":193.6,"v":87.5},{"s":"2012","t":196.3,"v":86.9},{"s":"2012","t":198.2,"v":87.5},{"s":"2012","t":200.0,"v":87.9},{"s":"2012","t":201.8,"v":89.0},{"s":"2012","t":204.5,"v":90.8},{"s":"2012","t":206.4,"v":88.8},{"s":"2012","t":209.1,"v":88.0},{"s":"2012","t":210.9,"v":88.0},{"s":"2012","t":213.6,"v":88.7},{"s":"2012","t":216.4,"v":87.9},{"s":"2012","t":219.1,"v":88.2},{"s":"2012","t":220.9,"v":89.0},{"s":"2012","t":222.8,"v":90.8},{"s":"2012","t":224.6,"v":91.6},{"s":"2012","t":227.3,"v":91.9},{"s":"2012","t":229.1,"v":91.7},{"s":"2012","t":230.1,"v":93.7},{"s":"2012","t":231.9,"v":94.0},{"s":"2012","t":233.7,"v":93.2},{"s":"2012","t":236.5,"v":92.7},{"s":"2012","t":239.2,"v":92.4},{"s":"2012","t":240.6,"v":91.6},{"s":"2012","t":241.9,"v":92.5},{"s":"2012","t":243.8,"v":91.9},{"s":"2012","t":246.5,"v":92.2},{"s":"2012","t":248.0,"v":93.0},{"s":"2012","t":250.2,"v":92.4},{"s":"2012","t":253.8,"v":91.6},{"s":"2012","t":257.4,"v":91.6},{"s":"2012","t":259.3,"v":92.4},{"s":"2012","t":261.4,"v":94.0},{"s":"2012","t":263.3,"v":92.0},{"s":"2012","t":265.7,"v":90.9},{"s":"2012","t":267.5,"v":91.7},{"s":"2012","t":270.2,"v":91.9},{"s":"2012","t":272.8,"v":92.2},{"s":"2012","t":275.5,"v":93.7},{"s":"2012","t":277.3,"v":93.5},{"s":"2012","t":280.0,"v":93.0},{"s":"2012","t":282.8,"v":94.0},{"s":"2012","t":284.1,"v":93.5},{"s":"2012","t":286.5,"v":95.4},{"s":"2012","t":288.8,"v":95.9},{"s":"2012","t":291.0,"v":95.1}
    ]
  },
  "layer": [
    {
      "data": {"name": "boxes"},
      "mark": {"type": "rect", "fill": "#ffffff"},
      "encoding": {
        "x": {"field": "t", "type": "quantitative"},
        "x2": {"field": "t2"},
        "y": {"field": "v", "type": "quantitative"},
        "y2": {"field": "v2"}
      }
    },
    {
      "data": {"name": "seps"},
      "mark": {"type": "rule", "color": "#3a3a3a", "strokeWidth": 1.3},
      "encoding": {
        "x": {"field": "t", "type": "quantitative"}
      }
    },
    {
      "data": {"name": "prices"},
      "mark": {"type": "line", "strokeJoin": "round", "strokeCap": "round"},
      "encoding": {
        "x": {
          "field": "t", "type": "quantitative",
          "scale": {"domain": [0, 364], "nice": false, "zero": false},
          "axis": {
            "title": null,
            "grid": false,
            "ticks": false,
            "values": [10, 40, 78, 107, 138, 168, 199, 228, 261, 290, 322, 352],
            "labelExpr": "['Jan','Feb','Mär','Apr','Mai','Jun','Jul','Aug','Sep','Okt','Nov','Dez'][indexof([10,40,78,107,138,168,199,228,261,290,322,352], datum.value)]",
            "labelFontSize": 16,
            "labelPadding": 10,
            "labelFlush": false,
            "labelOverlap": false,
            "domainColor": "#555555",
            "domainWidth": 2
          }
        },
        "y": {
          "field": "v", "type": "quantitative",
          "scale": {"domain": [40, 100], "nice": false, "zero": false},
          "axis": {
            "title": "Euro / 100 Liter Standardbestellung 3000 Liter",
            "titleFontSize": 17,
            "titleFontWeight": "normal",
            "titlePadding": 9,
            "values": [40, 50, 60, 70, 80, 90, 100],
            "grid": true,
            "gridColor": "#c6c6c6",
            "gridWidth": 2,
            "ticks": false,
            "labelFontSize": 13,
            "labelPadding": 15,
            "domainColor": "#555555",
            "domainWidth": 1.5
          }
        },
        "color": {
          "field": "s", "type": "nominal", "legend": null,
          "scale": {"domain": ["2008", "2009", "2010", "2011", "2012"], "range": ["#cfe6b8", "#72b64a", "#3d5f23", "#ff8a4e", "#de2315"]}
        },
        "strokeWidth": {
          "field": "s", "type": "ordinal", "legend": null,
          "scale": {"domain": ["2008", "2009", "2010", "2011", "2012"], "range": [2.4, 2.6, 2.6, 3.6, 4]}
        },
        "order": {"field": "t", "type": "quantitative"}
      }
    },
    {
      "data": {"name": "labels"},
      "mark": {"type": "text", "fontSize": 17, "color": "#000", "align": "center", "baseline": "middle"},
      "encoding": {
        "x": {"field": "t", "type": "quantitative"},
        "y": {"field": "v", "type": "quantitative"},
        "text": {"field": "label"}
      }
    },
    {
      "data": {"values": [{"t": 147.6, "t2": 228.4, "v": 99.13, "v2": 96.54, "label": "Allzeithoch Juli 2008", "tc": 187.9, "vc": 97.84}]},
      "layer": [
        {
          "mark": {"type": "rect", "fill": "#e8e8e8"},
          "encoding": {
            "x": {"field": "t", "type": "quantitative"},
            "x2": {"field": "t2"},
            "y": {"field": "v", "type": "quantitative"},
            "y2": {"field": "v2"}
          }
        },
        {
          "mark": {"type": "text", "fontSize": 14.5, "color": "#000", "align": "center", "baseline": "middle"},
          "encoding": {
            "x": {"field": "tc", "type": "quantitative"},
            "y": {"field": "vc", "type": "quantitative"},
            "text": {"field": "label"}
          }
        }
      ]
    },
    {
      "data": {"values": [{"t": 297.9, "t2": 347.9, "v": 96.22, "v2": 92.05}]},
      "mark": {"type": "rect", "fill": "#b41c10"},
      "encoding": {
        "x": {"field": "t", "type": "quantitative"},
        "x2": {"field": "t2"},
        "y": {"field": "v", "type": "quantitative"},
        "y2": {"field": "v2"}
      }
    },
    {
      "data": {"values": [{"t": 301.1, "v": 94.93, "label": "15. Okt.2012"}, {"t": 302.5, "v": 93.24, "label": "95 €"}]},
      "mark": {"type": "text", "fontSize": 12.3, "fontWeight": "bold", "color": "#ffffff", "align": "left", "baseline": "middle"},
      "encoding": {
        "x": {"field": "t", "type": "quantitative"},
        "y": {"field": "v", "type": "quantitative"},
        "text": {"field": "label"}
      }
    }
  ]
}
